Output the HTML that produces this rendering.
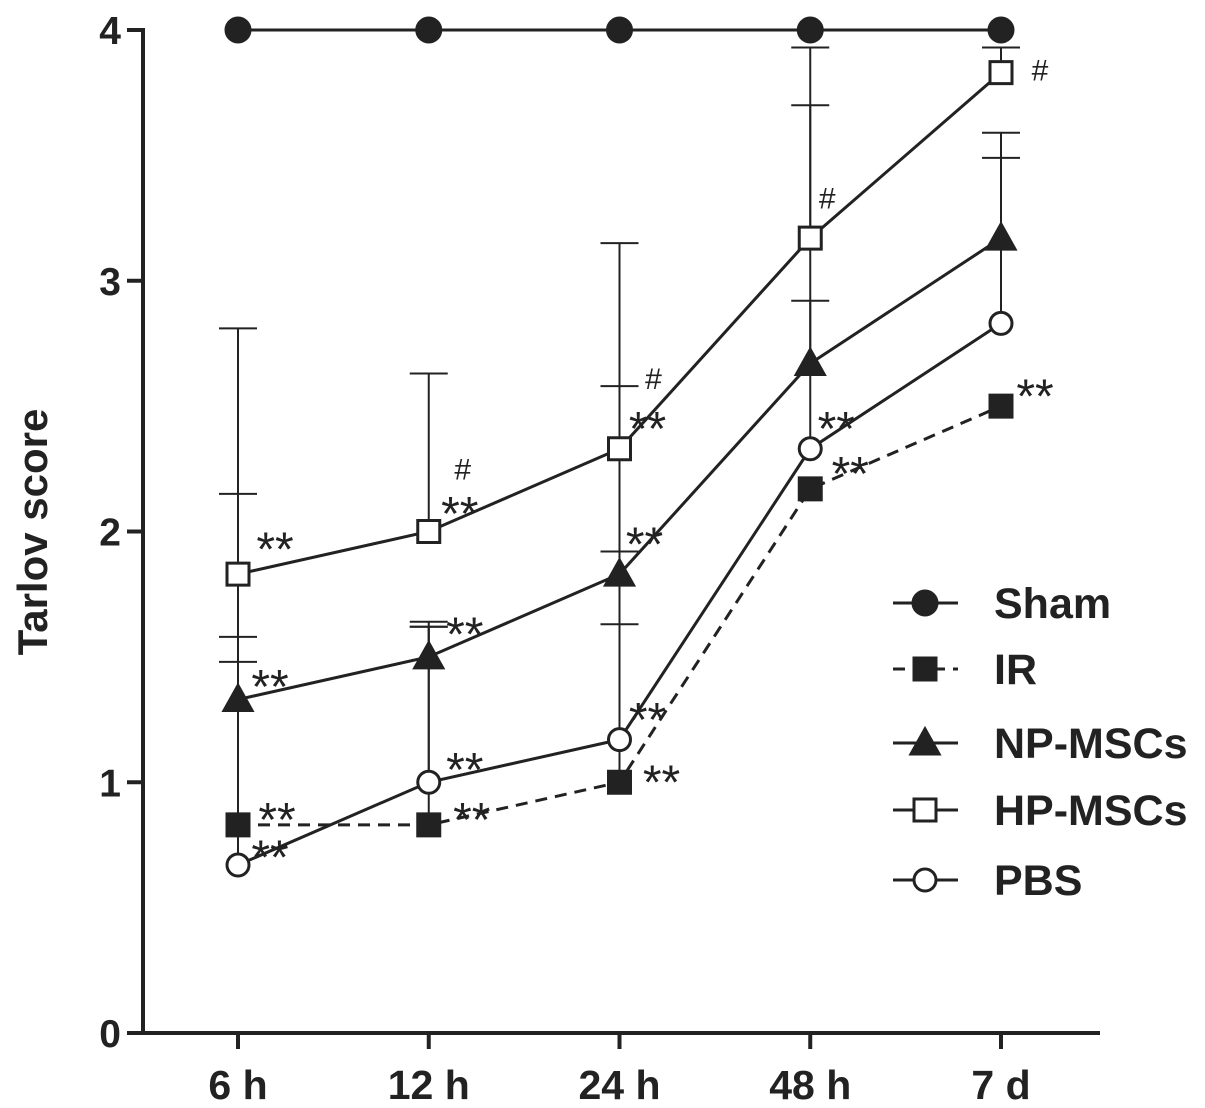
<!DOCTYPE html>
<html><head><meta charset="utf-8"><style>
body{margin:0;background:#fff}
svg{display:block;font-family:"Liberation Sans",Arial,sans-serif}
</style></head><body>
<svg id="chart" width="1205" height="1108" viewBox="0 0 1205 1108"></svg>
<script>
const categories=["6 h","12 h","24 h","48 h","7 d"];
const yTicks=[0,1,2,3,4];
const seriesNames=["Sham","IR","NP-MSCs","HP-MSCs","PBS"];
const shamValues=[4,4,4,4,4];
const irValues=[0.83,0.83,1.0,2.17,2.5];
const npValues=[1.33,1.5,1.83,2.67,3.17];
const hpValues=[1.83,2.0,2.33,3.17,3.83];
const pbsValues=[0.67,1.0,1.17,2.33,2.83];
const irErr=[0.75,0.79,0.92,0,0];
const npErr=[0.82,0.14,0.75,1.03,0.42];
const hpErr=[0.98,0.63,0.82,0.76,0.1];
const pbsErr=[0.81,0.62,0.46,0.59,0.66];
// [category index, glyph-centre value, x offset px, label]
const annotations=[
 [0,1.98,37,"**"],[0,1.43,32,"**"],[0,0.9,39,"**"],[0,0.75,32,"**"],
 [1,2.12,31,"**"],[1,2.25,34,"#"],[1,1.64,36,"**"],[1,1.1,36,"**"],[1,0.9,43,"**"],
 [2,2.46,28,"**"],[2,2.61,34,"#"],[2,2.0,25,"**"],[2,1.3,28,"**"],[2,1.05,42,"**"],
 [3,2.46,26,"**"],[3,2.28,40,"**"],[3,3.33,17,"#"],
 [4,2.59,34,"**"],[4,3.84,39,"#"]
];
const NS="http://www.w3.org/2000/svg";
const svg=document.getElementById("chart");
const x0=238,dx=190.75,yBase=1033,yUnit=250.75;
const xS=i=>x0+i*dx;
const yS=v=>yBase-v*yUnit;
function mk(t,a,parent){const e=document.createElementNS(NS,t);for(const k in a)e.setAttribute(k,a[k]);(parent||svg).appendChild(e);return e;}
let e=mk("line",{x1:143,y1:28,x2:143,y2:1035,stroke:"#222","stroke-width":4});


e=mk("line",{x1:141,y1:1033,x2:1100,y2:1033,stroke:"#222","stroke-width":4});


yTicks.forEach(v=>{
 mk("line",{x1:127,y1:yS(v),x2:143,y2:yS(v),stroke:"#222","stroke-width":4});
 const t=mk("text",{x:121,y:yS(v)+14,"text-anchor":"end","font-size":39,"font-weight":"bold",fill:"#222"});
 t.textContent=v;
 
 
});
categories.forEach((c,i)=>{
 mk("line",{x1:xS(i),y1:1033,x2:xS(i),y2:1049,stroke:"#222","stroke-width":4});
 const t=mk("text",{x:xS(i),y:1099,"text-anchor":"middle","font-size":41,"font-weight":"bold",fill:"#222"});
 t.textContent=c;
 
 
});
const yt=mk("text",{x:0,y:0,transform:"translate(47,532) rotate(-90)","text-anchor":"middle","font-size":42,"font-weight":"bold",fill:"#222"});
yt.textContent="Tarlov score";


function marker(type,cx,cy,g){
 const s={"stroke":"#222","stroke-width":3};
 if(type==="circle")return mk("circle",Object.assign({cx,cy,r:12,fill:"#222"},s),g);
 if(type==="square")return mk("rect",Object.assign({x:cx-11,y:cy-11,width:22,height:22,fill:"#222"},s),g);
 if(type==="tri")return mk("polygon",Object.assign({points:`${cx},${cy-14} ${cx-14},${cy+11} ${cx+14},${cy+11}`,fill:"#222"},s),g);
 if(type==="osquare")return mk("rect",Object.assign({x:cx-11,y:cy-11,width:22,height:22,fill:"#fff"},s),g);
 if(type==="ocircle")return mk("circle",Object.assign({cx,cy,r:11,fill:"#fff"},s),g);
}
const series=[
 {name:"sham",vals:shamValues,err:null,m:"circle",dash:null},
 {name:"ir",vals:irValues,err:irErr,m:"square",dash:"12,8"},
 {name:"np-mscs",vals:npValues,err:npErr,m:"tri",dash:null},
 {name:"hp-mscs",vals:hpValues,err:hpErr,m:"osquare",dash:null},
 {name:"pbs",vals:pbsValues,err:pbsErr,m:"ocircle",dash:null}
];
series.forEach(s=>{
 if(!s.err)return;
 const g=mk("g",{});
 
 
 s.vals.forEach((v,i)=>{
  if(!s.err[i])return;
  const top=yS(v+s.err[i]);
  mk("line",{x1:xS(i),y1:yS(v),x2:xS(i),y2:top,stroke:"#222","stroke-width":2},g);
  mk("line",{x1:xS(i)-19,y1:top,x2:xS(i)+19,y2:top,stroke:"#222","stroke-width":2},g);
 });
});
series.forEach(s=>{
 const g=mk("g",{});
 
 
 const pts=s.vals.map((v,i)=>xS(i)+","+yS(v)).join(" ");
 const a={points:pts,fill:"none",stroke:"#222","stroke-width":3};
 if(s.dash)a["stroke-dasharray"]=s.dash;
 mk("polyline",a,g);
 s.vals.forEach((v,i)=>{
  const m=marker(s.m,xS(i),yS(v),g);
  
  
 });
});
annotations.forEach(a=>{
 const isHash=a[3]==="#";
 const fs=isHash?30:48;
 const t=mk("text",{x:xS(a[0])+a[2],y:yS(a[1])+(isHash?fs*0.35:fs*0.6),"text-anchor":"middle","font-size":fs,fill:"#222"});
 t.textContent=a[3];
 
 
});
const legY=[603,669,743,810,880];
series.forEach((s,i)=>{
 const g=mk("g",{});
 
 
 const a={x1:893,y1:legY[i],x2:958,y2:legY[i],stroke:"#222","stroke-width":3};
 if(s.dash)a["stroke-dasharray"]="12,8";
 mk("line",a,g);
 marker(s.m,925,legY[i],g);
 const t=mk("text",{x:994,y:legY[i]+15,"font-size":43,"font-weight":"bold",fill:"#222"},g);
 t.textContent=seriesNames[i];
});
</script>
</body></html>
